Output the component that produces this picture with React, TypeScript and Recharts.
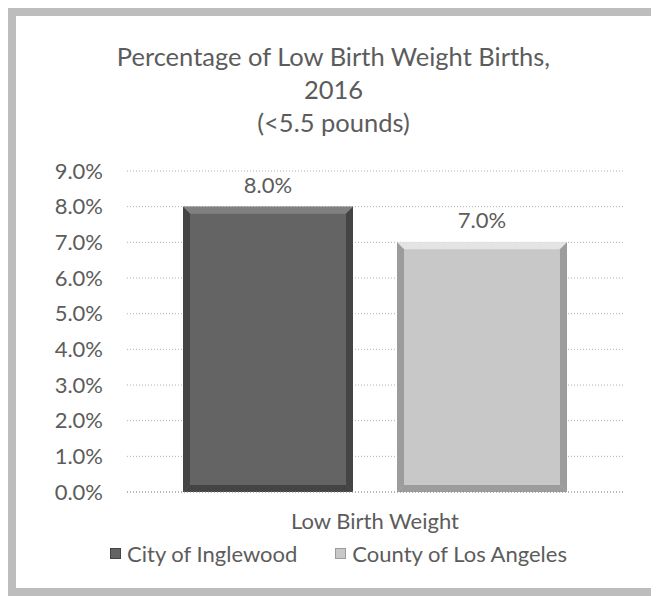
import React from "react";
import { BarChart, Bar, XAxis, YAxis, CartesianGrid, LabelList } from "recharts";

const categories = ["Low Birth Weight"];
const seriesNames = ["City of Inglewood", "County of Los Angeles"];
const inglewood = [8.0];
const losAngeles = [7.0];
const yTicks = [0, 1, 2, 3, 4, 5, 6, 7, 8, 9];
const titleLines = ["Percentage of Low Birth Weight Births,", "2016", "(<5.5 pounds)"];

const palette = [
  { base: "#646464", edge: "#444444", top: "#808080" },
  { base: "#c8c8c8", edge: "#9c9c9c", top: "#e4e4e4" },
];

const data = categories.map((c, i) => ({ name: c, a: inglewood[i], b: losAngeles[i] }));

const FONT = "Lato, 'Open Sans', sans-serif";
const TEXT = "#5c5c5c";

const makeShape = (p: { base: string; edge: string; top: string }) => (props: any) => {
  const { x, y, width, height } = props;
  const b = 7;
  return (
    <g>
      <rect x={x} y={y} width={width} height={height} fill={p.base} />
      <polygon points={`${x},${y} ${x + width},${y} ${x + width - b},${y + b} ${x + b},${y + b}`} fill={p.top} />
      <polygon points={`${x},${y} ${x + b},${y + b} ${x + b},${y + height - b} ${x},${y + height}`} fill={p.edge} />
      <polygon points={`${x + width},${y} ${x + width},${y + height} ${x + width - b},${y + height - b} ${x + width - b},${y + b}`} fill={p.edge} />
      <polygon points={`${x},${y + height} ${x + b},${y + height - b} ${x + width - b},${y + height - b} ${x + width},${y + height}`} fill={p.edge} />
    </g>
  );
};

const fmt = (v: number) => `${Number(v).toFixed(1)}%`;

export default function App() {
  return (
    <div
      style={{
        position: "relative",
        width: 651,
        height: 588,
        boxSizing: "border-box",
        border: "8px solid #bdbdbd",
        background: "#fff",
        fontFamily: FONT,
      }}
    >
      <div
        style={{
          position: "absolute",
          left: 0,
          top: 24,
          width: 635,
          textAlign: "center",
          fontSize: 25.5,
          lineHeight: "33px",
          color: TEXT,
        }}
      >
        {titleLines.map((t) => (
          <div key={t}>{t}</div>
        ))}
      </div>
      <BarChart
        width={635}
        height={572}
        data={data}
        margin={{ top: 155, right: 28, bottom: 56, left: 0 }}
        barCategoryGap={56}
        barGap={44}
      >
        <CartesianGrid vertical={false} stroke="#b0b0b0" strokeDasharray="1 2" />
        <XAxis
          dataKey="name"
          height={40}
          tickLine={false}
          axisLine={{ stroke: "#909090", strokeDasharray: "1 2" }}
          tickMargin={15}
          tick={{ fill: TEXT, fontSize: 22, fontFamily: FONT }}
        />
        <YAxis
          width={111}
          domain={[0, 9]}
          ticks={yTicks}
          tickFormatter={fmt}
          tickLine={false}
          axisLine={false}
          tickMargin={18}
          tick={{ fill: TEXT, fontSize: 22, fontFamily: FONT }}
        />
        <Bar dataKey="a" name={seriesNames[0]} isAnimationActive={false} shape={makeShape(palette[0])}>
          <LabelList dataKey="a" position="top" offset={14} formatter={fmt} fill={TEXT} fontSize={22} fontFamily={FONT} />
        </Bar>
        <Bar dataKey="b" name={seriesNames[1]} isAnimationActive={false} shape={makeShape(palette[1])}>
          <LabelList dataKey="b" position="top" offset={14} formatter={fmt} fill={TEXT} fontSize={22} fontFamily={FONT} />
        </Bar>
      </BarChart>
      <div
        style={{
          position: "absolute",
          left: 0,
          top: 524,
          width: 645,
          display: "flex",
          justifyContent: "center",
          alignItems: "center",
          gap: 38,
          fontSize: 22,
          color: TEXT,
        }}
      >
        {seriesNames.map((n, i) => (
          <div key={n} style={{ display: "flex", alignItems: "center", gap: 6 }}>
            <span
              style={{
                display: "inline-block",
                width: 11,
                height: 11,
                background: palette[i].base,
                border: `1px solid ${palette[i].edge}`,
                boxSizing: "border-box",
              }}
            />
            <span>{n}</span>
          </div>
        ))}
      </div>
    </div>
  );
}
